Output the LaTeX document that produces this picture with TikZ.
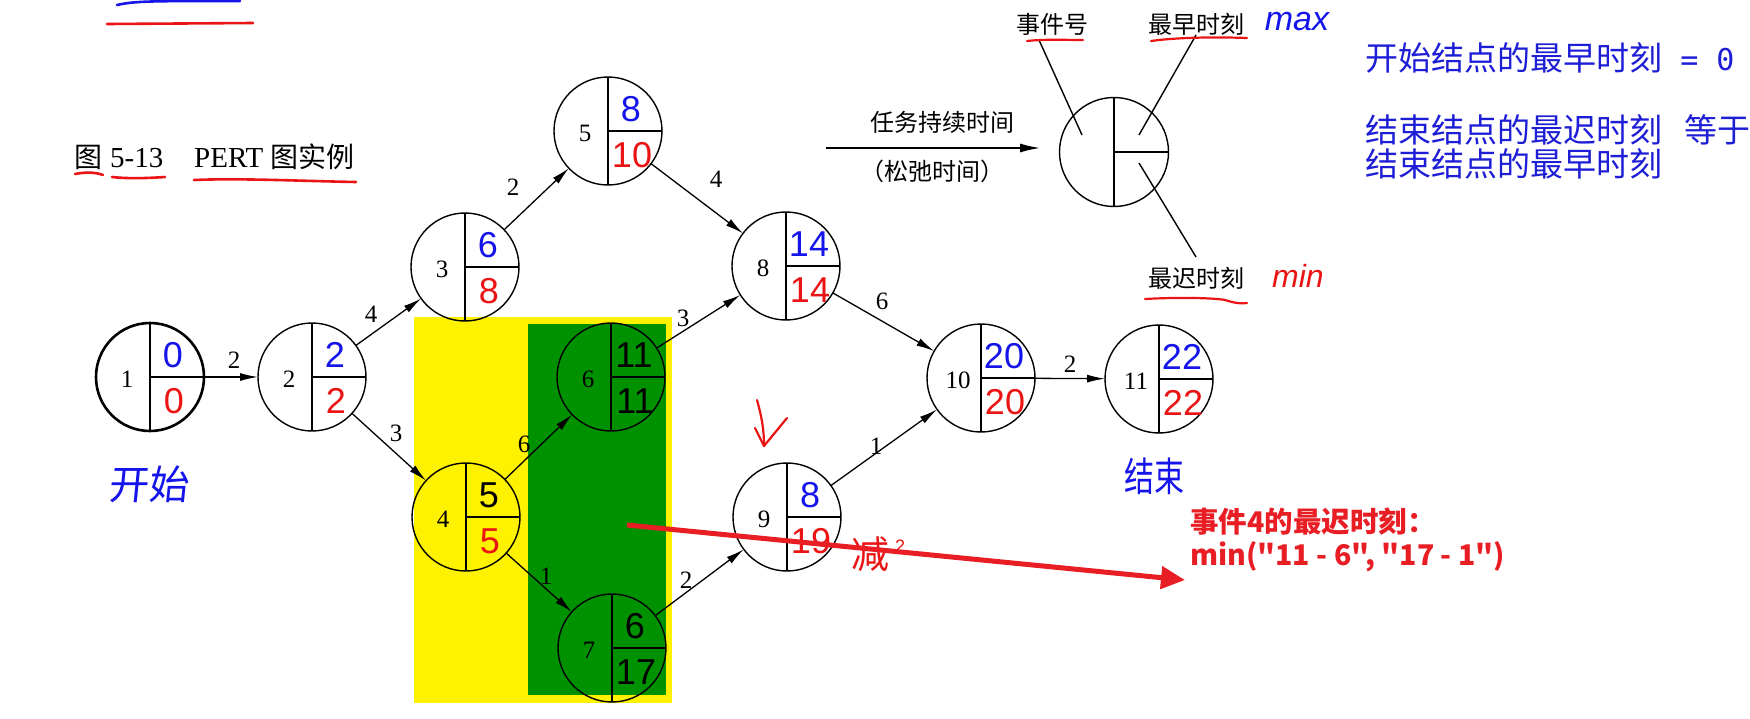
\documentclass[tikz,border=0pt]{standalone}
\usepackage{fontspec}
\setmainfont{Liberation Serif}
\newfontfamily\cjk{Noto Sans CJK SC}
\newfontfamily\hand{Liberation Sans}
\newfontfamily\monof{DejaVu Sans Mono}
\usetikzlibrary{arrows.meta,calc}
\definecolor{hblue}{RGB}{20,20,235}
\definecolor{hred}{RGB}{235,20,20}
\definecolor{tblue}{RGB}{30,30,215}
\definecolor{tred}{RGB}{232,30,36}
\definecolor{hlyellow}{RGB}{255,242,0}
\definecolor{hlgreen}{RGB}{0,145,0}
\tikzset{
  pcirc/.style={circle, draw, line width=1.4pt, minimum size=108pt, inner sep=0pt, outer sep=0pt},
  nline/.style={line width=1.4pt},
  plabel/.style={font=\fontsize{25}{25}\selectfont, inner sep=0pt},
  elbl/.style={font=\fontsize{25}{25}\selectfont, inner sep=0pt},
  hval/.style={font=\hand\fontsize{36}{36}\selectfont, inner sep=0pt},
  conn/.style={line width=1.3pt, -{Latex[length=18pt,width=8pt]}},
  lgtext/.style={font=\cjk\fontsize{24}{24}\selectfont, inner sep=0pt},
  bluetext/.style={font=\cjk\fontsize{33}{33}\selectfont, text=tblue, inner sep=0pt, anchor=west},
  redtext/.style={font=\cjk\bfseries\fontsize{28.5}{28.5}\selectfont, text=tred, inner sep=0pt, anchor=west},
  handmark/.style={line width=2.6pt, line cap=round, line join=round},
  ptr/.style={line width=1.4pt}
}
\newcommand{\pertnode}[8]{%
  \node[pcirc] (#1) at (#2,#3) {};
  \draw[nline] (#1.north) -- (#1.south);
  \draw[nline] (#1.center) -- (#1.east);
  \node[plabel] at ([shift={(-23,2)}]#1.center) {#4};
  \node[hval, text=#7] at ([shift={(23,-22)}]#1.center) {#5};
  \node[hval, text=#8] at ([shift={(24,24)}]#1.center) {#6};
}
\begin{document}
\begin{tikzpicture}[x=1pt,y=-1pt]
\useasboundingbox[fill=white] (0,0) rectangle (1750,718);
% highlight rectangles
\fill[hlyellow] (414,317) rectangle (672,703);
\fill[hlgreen] (528,324) rectangle (666,695);
% top-left marks
\draw[handmark, hblue] (117,5) .. controls (135,1) and (150,1) .. (240,1);
\draw[handmark, hred] (107,24) -- (253,23);
% caption
\node[font=\cjk\fontsize{28}{28}\selectfont, inner sep=0pt, anchor=base west] (capA) at (74,167) {图};
\node[font=\fontsize{29}{29}\selectfont, inner sep=0pt, anchor=base west] (capB) at (110,167) {5-13};
\node[font=\fontsize{29}{29}\selectfont, inner sep=0pt, anchor=base west] (capC) at (194,167) {PERT\hspace{7pt}{\cjk\fontsize{28}{28}\selectfont 图实例}};
\draw[handmark, hred] (75,174) .. controls (85,172) and (95,172) .. (103,175);
\draw[handmark, hred] (112,177) .. controls (130,179) and (150,178) .. (165,177);
\draw[handmark, hred] (194,180) .. controls (240,178) and (300,181) .. (356,182);
% PERT nodes
\pertnode{n1}{150}{377}{1}{0}{0}{hblue}{hred}
\draw[line width=2.6pt] (n1) circle[radius=54pt];
\pertnode{n2}{312}{377}{2}{2}{2}{hblue}{hred}
\pertnode{n3}{465}{267}{3}{6}{8}{hblue}{hred}
\pertnode{n4}{466}{517}{4}{5}{5}{black}{hred}
\pertnode{n5}{608}{131}{5}{8}{10}{hblue}{hred}
\pertnode{n6}{611}{377}{6}{11}{11}{black}{black}
\pertnode{n7}{612}{648}{7}{6}{17}{black}{black}
\pertnode{n8}{786}{266}{8}{14}{14}{hblue}{hred}
\pertnode{n9}{787}{517}{9}{8}{19}{hblue}{hred}
\pertnode{n10}{981}{378}{10}{20}{20}{hblue}{hred}
\pertnode{n11}{1159}{379}{11}{22}{22}{hblue}{hred}
% connectors
\draw[conn] (n1) -- (n2);
\draw[conn] (n2) -- (n3);
\draw[conn] (n2) -- (n4);
\draw[conn] (n3) -- (n5);
\draw[conn] (n4) -- (n6);
\draw[conn] (n4) -- (n7);
\draw[conn] (n5) -- (n8);
\draw[conn] (n6) -- (n8);
\draw[conn] (n7) -- (n9);
\draw[conn] (n8) -- (n10);
\draw[conn] (n9) -- (n10);
\draw[conn] (n10) -- (n11);
% edge labels
\node[elbl] (l12) at (234,360) {2};
\node[elbl] (l23) at (371,314) {4};
\node[elbl] (l24) at (396,433) {3};
\node[elbl] (l35) at (513,187) {2};
\node[elbl] (l46) at (524,444) {6};
\node[elbl] (l47) at (546,576) {1};
\node[elbl] (l58) at (716,179) {4};
\node[elbl] (l68) at (683,318) {3};
\node[elbl] (l79) at (686,580) {2};
\node[elbl] (l810) at (882,301) {6};
\node[elbl] (l910) at (876,446) {1};
\node[elbl] (l1011) at (1070,364) {2};
% legend
\node[circle, draw, line width=1.4pt, minimum size=109pt, inner sep=0pt, outer sep=0pt] (leg) at (1114,152) {};
\draw[nline] (leg.north) -- (leg.south);
\draw[nline] (leg.center) -- (leg.east);
\coordinate (la) at (826,148);
\coordinate (lb) at (1040,148);
\draw[line width=1.4pt, -{Latex[length=20pt,width=9pt]}] (la) -- (lb);
\node[lgtext] (dur) at (942,122) {任务持续时间};
\node[lgtext] (slack) at (932,171) {（松弛时间）};
\node[lgtext] (evno) at (1052,24) {事件号};
\node[lgtext] (early) at (1196,24) {最早时刻};
\node[lgtext] (late) at (1196,278) {最迟时刻};
\coordinate (p1a) at (1039,40); \coordinate (p1b) at (1082,135);
\coordinate (p2a) at (1196,35); \coordinate (p2b) at (1139,135);
\coordinate (p3a) at (1139,163); \coordinate (p3b) at (1196,257);
\draw[ptr] (p1a) -- (p1b);
\draw[ptr] (p2a) -- (p2b);
\draw[ptr] (p3a) -- (p3b);
\draw[handmark, hred, line width=2.2pt] (1027,41) .. controls (1045,39) and (1065,40) .. (1083,40);
\draw[handmark, hred, line width=2.2pt] (1151,41) .. controls (1180,37) and (1220,37) .. (1247,38);
\draw[handmark, hred, line width=2.2pt] (1145,299) .. controls (1180,297) and (1215,298) .. (1225,300) .. controls (1235,303) and (1240,304) .. (1247,303);
\node[font=\hand\itshape\fontsize{34}{34}\selectfont, text=hblue, inner sep=0pt] (maxw) at (1297,22) {max};
\node[font=\hand\itshape\fontsize{32}{32}\selectfont, text=hred, inner sep=0pt] (minw) at (1298,276) {min};
% blue notes
\node[bluetext] (b1) at (1365,58) {开始结点的最早时刻{\monof\fontsize{30}{30}\selectfont\ = 0}};
\node[bluetext] (b2) at (1365,130) {结束结点的最迟时刻\hspace{22pt}等于};
\node[bluetext] (b3) at (1365,164) {结束结点的最早时刻};
% handwritten notes
\node[font=\cjk\fontsize{40}{40}\selectfont, text=hblue, inner sep=0pt, xslant=0.1] (start) at (150,484) {开始};
\node[font=\cjk\fontsize{40}{40}\selectfont, text=hblue, inner sep=0pt, xscale=0.75] (finish) at (1154,476) {结束};
\draw[handmark, hred, line width=2.2pt] (757,400) .. controls (762,418) and (764,430) .. (764,446);
\draw[handmark, hred, line width=2.2pt] (755,428) -- (764,446) -- (787,418);
\node[font=\cjk\fontsize{38}{38}\selectfont, text=hred, inner sep=0pt] (minus) at (870,554) {减};
\node[font=\hand\fontsize{18}{18}\selectfont, text=hred, inner sep=0pt] (minus2) at (900,546) {2};
% red note and arrow
\node[redtext] (rt1) at (1190,522) {事件4的最迟时刻：};
\node[redtext] (rt2) at (1190,557) {min("11 - 6", "17 - 1")};
\coordinate (ra) at (627,525);
\coordinate (rb) at (1185,580);
\draw[tred, line width=5pt, -{Triangle[length=24pt,width=22pt]}] (ra) -- (rb);
\end{tikzpicture}
\end{document}
